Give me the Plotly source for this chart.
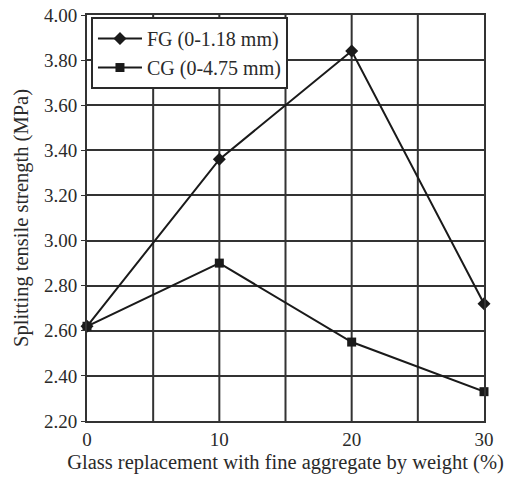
import plotly.graph_objects as go

replacement = [0, 10, 20, 30]
fg_strength = [2.62, 3.36, 3.84, 2.72]
cg_strength = [2.62, 2.90, 2.55, 2.33]
series_names = ["FG (0-1.18 mm)", "CG (0-4.75 mm)"]
y_ticks = [2.20, 2.40, 2.60, 2.80, 3.00, 3.20, 3.40, 3.60, 3.80, 4.00]
x_ticks = [0, 10, 20, 30]
x_grid = [5, 10, 15, 20, 25]

FONT = "Liberation Serif, Times New Roman, serif"
INK = "#1a1a1a"
GRID = "#333333"
TEXT = "#2a2a2a"

fig = go.Figure()
fig.add_trace(go.Scatter(
    x=replacement, y=fg_strength, name=series_names[0], mode="lines+markers",
    line=dict(color=INK, width=2),
    marker=dict(symbol="diamond", size=10, color=INK),
    cliponaxis=False,
))
fig.add_trace(go.Scatter(
    x=replacement, y=cg_strength, name=series_names[1], mode="lines+markers",
    line=dict(color=INK, width=2),
    marker=dict(symbol="square", size=9, color=INK),
    cliponaxis=False,
))

# the page body adds an 8px margin, so the figure is sized to fit inside it
fig.update_layout(
    width=505, height=471,
    margin=dict(l=79, r=29, t=7, b=58),
    paper_bgcolor="white", plot_bgcolor="white",
    font=dict(family=FONT, size=20, color=TEXT),
    showlegend=True,
    legend=dict(
        x=0.01, y=0.995, xanchor="left", yanchor="top",
        bgcolor="white", bordercolor=TEXT, borderwidth=2,
        font=dict(family=FONT, size=20, color=TEXT),
        itemwidth=44, tracegroupgap=0,
    ),
    xaxis=dict(
        range=[0, 30], tickvals=x_ticks, ticktext=[str(v) for v in x_ticks],
        showgrid=False, zeroline=False, automargin=False, ticklabeloverflow="allow",
        showline=True, linecolor=GRID, linewidth=2, mirror=True,
        ticks="", ticklen=0,
        title=dict(text="Glass replacement with fine aggregate by weight (%)", standoff=6,
                   font=dict(size=20.5)),
        tickfont=dict(size=19),
    ),
    yaxis=dict(
        range=[2.2, 4.0], tickvals=y_ticks, ticktext=[f"{v:.2f}" for v in y_ticks],
        showgrid=True, gridcolor=GRID, gridwidth=2, zeroline=False, automargin=False,
        ticklabeloverflow="allow",
        showline=True, linecolor=GRID, linewidth=2, mirror=True,
        ticks="outside", ticklen=4, tickcolor=GRID, tickwidth=1,
        title=dict(text="Splitting tensile strength (MPa)", standoff=10, font=dict(size=20.5)),
        tickfont=dict(size=19),
    ),
)

for xv in x_grid:
    fig.add_vline(x=xv, line=dict(color=GRID, width=2), layer="below")

fig.write_html("out.html")
